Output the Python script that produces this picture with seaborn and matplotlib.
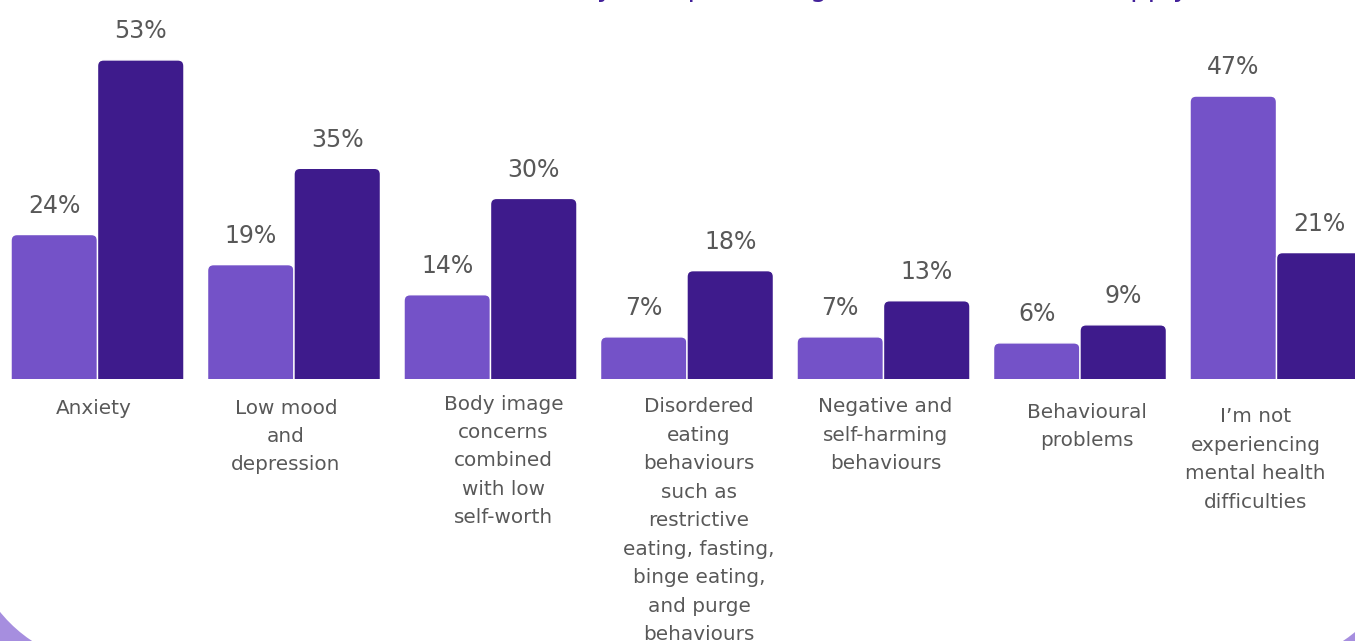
import matplotlib
matplotlib.use("Agg")
import matplotlib.pyplot as plt
from matplotlib.patches import FancyBboxPatch
import pandas as pd
import seaborn as sns

# ---- data -------------------------------------------------------------
categories = [
    "Anxiety",
    "Low mood\nand\ndepression",
    "Body image\nconcerns\ncombined\nwith low\nself-worth",
    "Disordered\neating\nbehaviours\nsuch as\nrestrictive\neating, fasting,\nbinge eating,\nand purge\nbehaviours",
    "Negative and\nself-harming\nbehaviours",
    "Behavioural\nproblems",
    "I\u2019m not\nexperiencing\nmental health\ndifficulties",
]
group_names = ["Group 1", "Group 2"]
values_group_1 = [24, 19, 14, 7, 7, 6, 47]
values_group_2 = [53, 35, 30, 18, 13, 9, 21]
title_text = "Mental health difficulty as a percentage (tick all those that apply),"

# ---- style ------------------------------------------------------------
LIGHT = "#7452C8"
DARK = "#3E1B8C"
LAVENDER = "#A68EDF"
TEXT = "#585858"
TITLE = "#43219A"

W, H = 1355, 641
sns.set_theme(style="white")
plt.rcParams["font.family"] = ["DejaVu Sans"]

fig = plt.figure(figsize=(W / 100, H / 100), dpi=100, facecolor=LAVENDER)

# white rounded card on the lavender background (pixel coordinates)
bg = fig.add_axes([0, 0, 1, 1])
bg.set_xlim(0, W)
bg.set_ylim(H, 0)
bg.axis("off")
bg.add_patch(FancyBboxPatch((-40, -300), 1455, 973,
                            boxstyle="round,pad=0,rounding_size=200",
                            fc="white", ec="none"))

# ---- bars -------------------------------------------------------------
base_px = 379          # baseline of the bars, from the top
px_per_unit = 6.02     # vertical pixels per percentage point
pitch_px = 196.5       # distance between category centres
first_px = 97.5        # centre of the first category

ax = fig.add_axes([0, (H - base_px) / H, 1, base_px / H])
ax.patch.set_alpha(0)

df = pd.DataFrame({
    "category": categories * 2,
    "group": [g for g in group_names for _ in categories],
    "value": values_group_1 + values_group_2,
})
sns.barplot(data=df, x="category", y="value", hue="group",
            palette=[LIGHT, DARK], saturation=1, width=0.88, gap=0,
            edgecolor="white", linewidth=1, legend=False, ax=ax)

ax.set_ylim(0, base_px / px_per_unit)
ax.set_xlim(-first_px / pitch_px, (W - first_px) / pitch_px)

for cont in ax.containers:
    ax.bar_label(cont, fmt="{:.0f}%", padding=12, fontsize=17, color=TEXT)

# give each bar slightly rounded top corners
rx = 6 / pitch_px
ry = 6 / px_per_unit
for cont in ax.containers:
    for p in cont.patches:
        x, y, w, h = p.get_x(), p.get_y(), p.get_width(), p.get_height()
        ext = 2.0
        rounded = FancyBboxPatch((x, y - ext), w, h + ext,
                                 boxstyle=f"round,pad=0,rounding_size={rx}",
                                 mutation_aspect=ry / rx,
                                 fc=p.get_facecolor(), ec="white", lw=1)
        p.set_visible(False)
        ax.add_patch(rounded)

# category labels under each group
label_dx = [-4, -8, 13, 12, 2, 7, -21]
label_dy = [0, 0, -4, -1, -1, 4, 9]
for i, lab in enumerate(categories):
    ax.annotate(lab, xy=(i, 0), xycoords=("data", "axes fraction"),
                xytext=(label_dx[i] * 0.72, -(19.5 + label_dy[i]) * 0.72),
                textcoords="offset points", ha="center", va="top",
                fontsize=14.4, color=TEXT, linespacing=1.63,
                annotation_clip=False)

ax.set_xlabel("")
ax.set_ylabel("")
ax.set_xticks([])
ax.set_yticks([])
sns.despine(ax=ax, left=True, bottom=True)

# heading (its top runs past the upper edge)
fig.text(295 / W, 1 + 3.5 / H, title_text, ha="left", va="baseline",
         fontsize=19.8, color=TITLE)

fig.savefig("out.png", dpi=100, facecolor=LAVENDER)
